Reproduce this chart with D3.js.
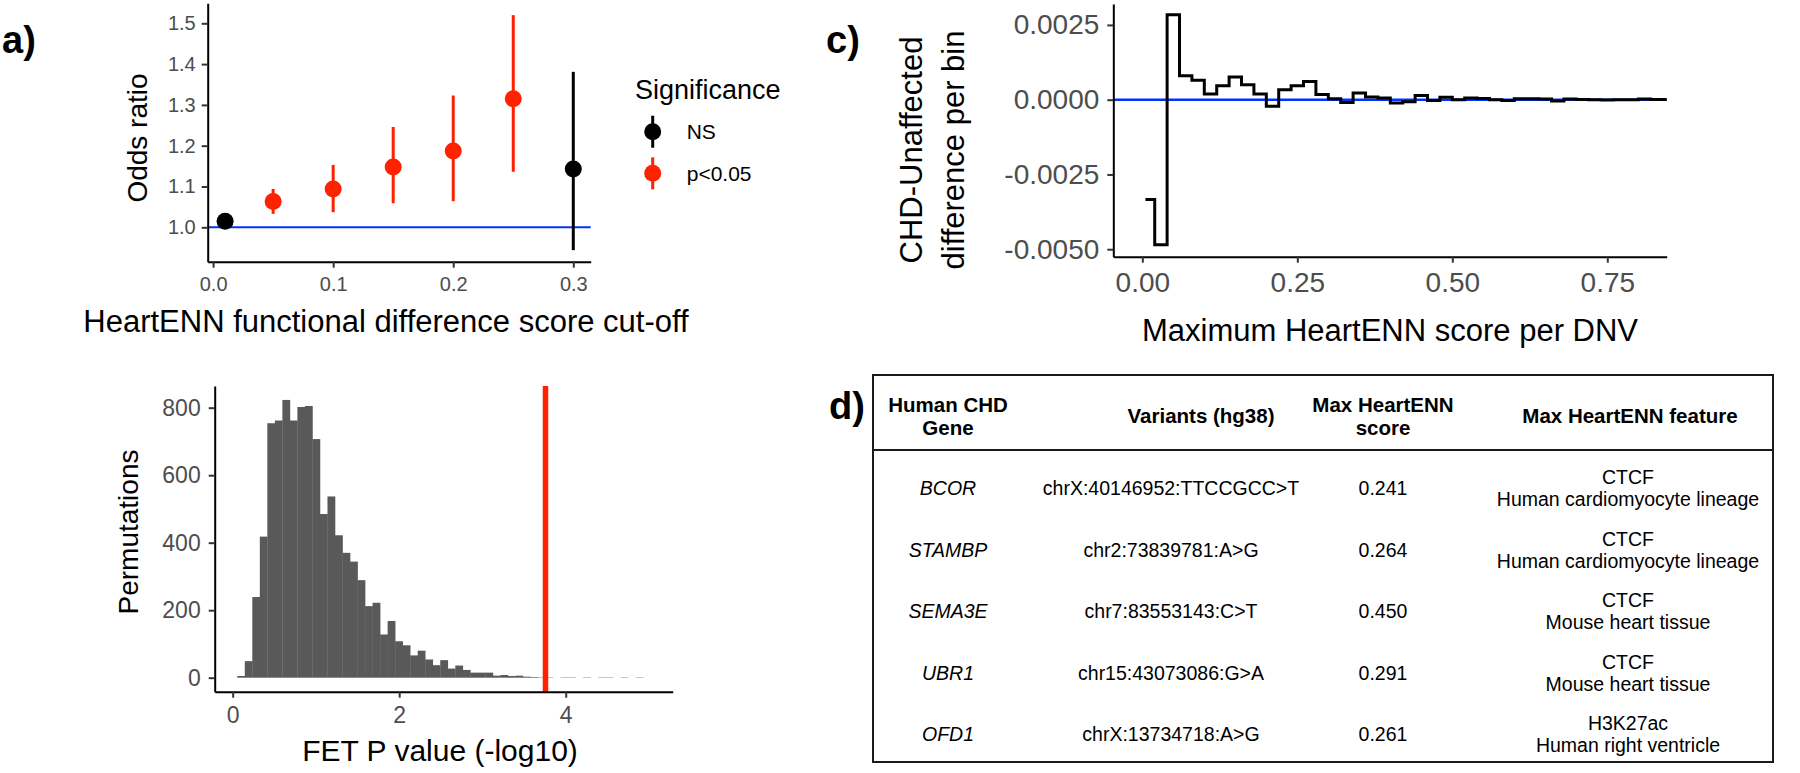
<!DOCTYPE html>
<html>
<head>
<meta charset="utf-8">
<script src="https://cdn.jsdelivr.net/npm/d3@7"></script>
<style>
  body { margin: 0; background: #fff; }
  svg { display: block; }
</style>
</head>
<body>
<svg id="fig" width="1800" height="773"></svg>
<script>
// panel a: odds ratio per cut-off
const cutoffs = [0.01, 0.05, 0.1, 0.15, 0.2, 0.25, 0.3];
const oddsRatio = [1.015, 1.063, 1.094, 1.148, 1.187, 1.315, 1.143];
const ciLow = [1.006, 1.033, 1.037, 1.059, 1.064, 1.136, 0.944];
const ciHigh = [1.024, 1.094, 1.153, 1.246, 1.323, 1.520, 1.381];
const significance = ["NS", "p<0.05", "p<0.05", "p<0.05", "p<0.05", "p<0.05", "NS"];
const sigLevels = ["NS", "p<0.05"];
const sigColors = ["#000000", "#ff2200"];
const orTicks = [1.0, 1.1, 1.2, 1.3, 1.4, 1.5];
const cutoffTicks = [0.0, 0.1, 0.2, 0.3];

// panel b: permutation histogram
const histStart = 0.055;
const binWidth = 0.0903;
const permCounts = [5, 49, 239, 418, 754, 762, 823, 762, 802, 805,
  707, 485, 537, 422, 370, 344, 289, 212, 222, 128,
  168, 108, 96, 66, 80, 54, 37, 52, 27, 36,
  23, 15, 15, 15, 6, 8, 5, 6, 3, 2,
  1, 1, 0, 1, 1, 0, 1, 0, 1, 1,
  0, 1, 0, 1];
const observedP = 3.757;
const permXTicks = [0, 2, 4];
const permYTicks = [0, 200, 400, 600, 800];

// panel c: CHD - unaffected difference per bin
const binX = [0.005, 0.02, 0.04, 0.06, 0.08, 0.10, 0.12, 0.14, 0.16, 0.18,
  0.20, 0.22, 0.24, 0.26, 0.28, 0.30, 0.32, 0.34, 0.36, 0.38,
  0.40, 0.42, 0.44, 0.46, 0.48, 0.50, 0.52, 0.54, 0.56, 0.58,
  0.60, 0.62, 0.64, 0.66, 0.68, 0.70, 0.72, 0.74, 0.76, 0.78,
  0.80, 0.82, 0.8458];
const binDiff = [-0.00334, -0.00485, 0.00284, 0.00080, 0.00065, 0.00019, 0.00047, 0.00076, 0.00050, 0.00019,
  -0.00022, 0.00033, 0.00047, 0.00061, 0.00017, 0.00003, -0.00009, 0.00022, 0.00009, 0.00006,
  -0.00011, -0.00007, 0.00014, -0.00003, 0.00008, 0.00000, 0.00006, 0.00004, 0.00000, -0.00003,
  0.00003, 0.00003, 0.00002, -0.00004, 0.00002, 0.00001, 0.00000, -0.00001, 0.00000, 0.00000,
  0.00002, 0.00001, 0.00001];
const scoreTicks = [0, 0.25, 0.5, 0.75];
const diffTicks = [-0.005, -0.0025, 0, 0.0025];

// panel d: table
const tableHeaders = [["Human CHD", "Gene"], ["Variants (hg38)"], ["Max HeartENN", "score"], ["Max HeartENN feature"]];
const genes = ["BCOR", "STAMBP", "SEMA3E", "UBR1", "OFD1"];
const variants = ["chrX:40146952:TTCCGCC>T", "chr2:73839781:A>G", "chr7:83553143:C>T", "chr15:43073086:G>A", "chrX:13734718:A>G"];
const maxScores = ["0.241", "0.264", "0.450", "0.291", "0.261"];
const featureMarks = ["CTCF", "CTCF", "CTCF", "CTCF", "H3K27ac"];
const featureTissues = ["Human cardiomyocyte lineage", "Human cardiomyocyte lineage", "Mouse heart tissue", "Mouse heart tissue", "Human right ventricle"];

const FONT = "'Liberation Sans', Arial, Helvetica, sans-serif";
const svg = d3.select("#fig");

function styleAxis(g, fontSize) {
  g.attr("font-family", FONT).attr("font-size", fontSize);
  g.select(".domain").attr("stroke", "#000").attr("stroke-width", 2);
  g.selectAll(".tick line").attr("stroke", "#333").attr("stroke-width", 2);
  g.selectAll(".tick text").attr("fill", "#4d4d4d");
}

function label(g, txt, x, y, size, opts) {
  opts = opts || {};
  const t = g.append("text")
    .attr("x", x).attr("y", y)
    .attr("font-family", FONT)
    .attr("font-size", size)
    .attr("fill", opts.fill || "#000")
    .attr("text-anchor", opts.anchor || "middle")
    .text(txt);
  if (opts.bold) t.attr("font-weight", "bold");
  if (opts.italic) t.attr("font-style", "italic");
  if (opts.rotate) t.attr("transform", "rotate(-90," + x + "," + y + ")");
  return t;
}

// ---------- panel a ----------
const gA = svg.append("g");
const xA = d3.scaleLinear().domain([-0.0045, 0.3145]).range([207.7, 590.7]);
const yA = d3.scaleLinear().domain([0.9157, 1.549]).range([261.7, 3.3]);
const colA = d3.scaleOrdinal().domain(sigLevels).range(sigColors);

gA.append("line")
  .attr("x1", xA.range()[0]).attr("x2", xA.range()[1])
  .attr("y1", yA(1)).attr("y2", yA(1))
  .attr("stroke", "#0033ff").attr("stroke-width", 2);

gA.selectAll(".err").data(cutoffs).join("line")
  .attr("x1", d => xA(d)).attr("x2", d => xA(d))
  .attr("y1", (d, i) => yA(ciLow[i])).attr("y2", (d, i) => yA(ciHigh[i]))
  .attr("stroke", (d, i) => colA(significance[i])).attr("stroke-width", 3);

gA.selectAll(".pt").data(cutoffs).join("circle")
  .attr("cx", d => xA(d)).attr("cy", (d, i) => yA(oddsRatio[i]))
  .attr("r", 8.5)
  .attr("fill", (d, i) => colA(significance[i]));

gA.append("g").attr("transform", "translate(0," + yA.range()[0] + ")")
  .call(d3.axisBottom(xA).tickValues(cutoffTicks).tickFormat(d3.format(".1f"))
    .tickSize(6).tickSizeOuter(0).tickPadding(9))
  .call(g => styleAxis(g, 20));
gA.append("g").attr("transform", "translate(" + xA.range()[0] + ",0)")
  .call(d3.axisLeft(yA).tickValues(orTicks).tickFormat(d3.format(".1f"))
    .tickSize(6).tickSizeOuter(0).tickPadding(6))
  .call(g => styleAxis(g, 20));

label(gA, "Odds ratio", 147, 138, 28, { rotate: true });
label(gA, "HeartENN functional difference score cut-off", 386, 332, 31);

// legend
label(gA, "Significance", 635, 99, 27, { anchor: "start" });
const legA = gA.selectAll(".leg").data(sigLevels).join("g")
  .attr("transform", (d, i) => "translate(652.7," + (131.7 + i * 41.6) + ")");
legA.append("line").attr("y1", -16).attr("y2", 16)
  .attr("stroke", d => colA(d)).attr("stroke-width", 3);
legA.append("circle").attr("r", 8.5).attr("fill", d => colA(d));
legA.append("text").attr("x", 34).attr("y", 7.5)
  .attr("font-family", FONT).attr("font-size", 21)
  .text(d => d);

label(svg, "a)", 2, 53, 38, { bold: true, anchor: "start" });

// ---------- panel b ----------
const gB = svg.append("g");
const xB = d3.scaleLinear().domain([-0.216, 5.285]).range([214.7, 672.7]);
const yB = d3.scaleLinear().domain([-41.5, 864.3]).range([691.7, 386]);

gB.selectAll(".bar").data(permCounts).join("rect")
  .attr("x", (d, i) => xB(histStart + i * binWidth))
  .attr("width", xB(histStart + binWidth) - xB(histStart) + 0.3)
  .attr("y", d => yB(d))
  .attr("height", d => yB(0) - yB(d))
  .attr("fill", "#595959");

gB.append("line")
  .attr("x1", xB(observedP)).attr("x2", xB(observedP))
  .attr("y1", yB.range()[1]).attr("y2", yB.range()[0])
  .attr("stroke", "#ff2200").attr("stroke-width", 5.5);

gB.append("g").attr("transform", "translate(0," + yB.range()[0] + ")")
  .call(d3.axisBottom(xB).tickValues(permXTicks).tickFormat(d3.format("d"))
    .tickSize(6).tickSizeOuter(0).tickPadding(9))
  .call(g => styleAxis(g, 23));
gB.append("g").attr("transform", "translate(" + xB.range()[0] + ",0)")
  .call(d3.axisLeft(yB).tickValues(permYTicks).tickFormat(d3.format("d"))
    .tickSize(6).tickSizeOuter(0).tickPadding(8))
  .call(g => styleAxis(g, 23));

label(gB, "Permutations", 138, 532, 28, { rotate: true });
label(gB, "FET P value (-log10)", 440, 761, 30);

// ---------- panel c ----------
const gC = svg.append("g");
const xC = d3.scaleLinear().domain([-0.0468, 0.8458]).range([1113.3, 1666.7]);
const yC = d3.scaleLinear().domain([-0.00525, 0.0032]).range([256.7, 4]);

gC.append("line")
  .attr("x1", xC.range()[0]).attr("x2", xC.range()[1])
  .attr("y1", yC(0)).attr("y2", yC(0))
  .attr("stroke", "#0033ff").attr("stroke-width", 2.5);

const stepLine = d3.line()
  .x((d, i) => xC(binX[i]))
  .y(d => yC(d))
  .curve(d3.curveStepAfter);
gC.append("path").datum(binDiff)
  .attr("d", stepLine)
  .attr("fill", "none").attr("stroke", "#000").attr("stroke-width", 3);

gC.append("g").attr("transform", "translate(0," + yC.range()[0] + ")")
  .call(d3.axisBottom(xC).tickValues(scoreTicks).tickFormat(d => d.toFixed(2))
    .tickSize(6).tickSizeOuter(0).tickPadding(9))
  .call(g => styleAxis(g, 28));
gC.append("g").attr("transform", "translate(" + xC.range()[0] + ",0)")
  .call(d3.axisLeft(yC).tickValues(diffTicks).tickFormat(d => d.toFixed(4))
    .tickSize(6).tickSizeOuter(0).tickPadding(8))
  .call(g => styleAxis(g, 28));

label(gC, "CHD-Unaffected", 922, 150, 31, { rotate: true });
label(gC, "difference per bin", 964, 150, 31, { rotate: true });
label(gC, "Maximum HeartENN score per DNV", 1390, 341, 31);

label(svg, "c)", 826, 53, 38, { bold: true, anchor: "start" });

// ---------- panel d ----------
const gD = svg.append("g");
const tableBox = { x0: 873, x1: 1773, y0: 375, y1: 762, headY: 450 };
gD.append("rect")
  .attr("x", tableBox.x0).attr("y", tableBox.y0)
  .attr("width", tableBox.x1 - tableBox.x0).attr("height", tableBox.y1 - tableBox.y0)
  .attr("fill", "none").attr("stroke", "#1a1a1a").attr("stroke-width", 2);
gD.append("line")
  .attr("x1", tableBox.x0).attr("x2", tableBox.x1)
  .attr("y1", tableBox.headY).attr("y2", tableBox.headY)
  .attr("stroke", "#1a1a1a").attr("stroke-width", 2);

const headX = [948, 1201, 1383, 1630];
const colX = [948, 1171, 1383, 1628];
tableHeaders.forEach((lines, c) => {
  lines.forEach((ln, k) => {
    const yc = lines.length === 1 ? 415 : 404 + k * 23.5;
    label(gD, ln, headX[c], yc + 7.5, 20.5, { bold: true });
  });
});

const rowY = d3.scalePoint().domain(d3.range(genes.length)).range([488, 734]);
genes.forEach((g, r) => {
  const yc = rowY(r);
  label(gD, g, colX[0], yc + 7, 19.5, { italic: true });
  label(gD, variants[r], colX[1], yc + 7, 19.5);
  label(gD, maxScores[r], colX[2], yc + 7, 19.5);
  label(gD, featureMarks[r], colX[3], yc - 4, 19.5);
  label(gD, featureTissues[r], colX[3], yc + 18, 19.5);
});

label(svg, "d)", 829, 419, 38, { bold: true, anchor: "start" });
</script>
</body>
</html>
